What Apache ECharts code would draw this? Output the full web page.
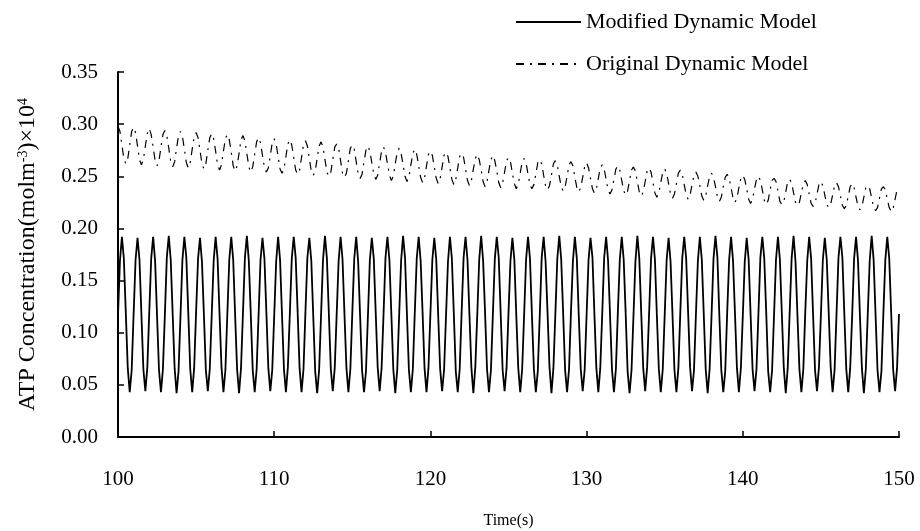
<!DOCTYPE html>
<html>
<head>
<meta charset="utf-8">
<script src="https://cdn.jsdelivr.net/npm/echarts@6/dist/echarts.min.js"></script>
<style>
  html, body { margin: 0; padding: 0; background: #fff; }
  #chart { width: 920px; height: 531px; }
</style>
</head>
<body>
<div id="chart"></div>
<script>
// Sampling grid of the simulation output (seconds)
const tStart = 100;
const tStep = 0.125;

// ATP concentration, modified dynamic model (one row per second, 8 samples each)
const modifiedModel = [
  0.117,0.169,0.192,0.171,0.119,0.066,0.043,0.064,
  0.118,0.170,0.191,0.170,0.117,0.065,0.044,0.066,
  0.119,0.171,0.192,0.169,0.116,0.064,0.043,0.065,
  0.117,0.172,0.193,0.170,0.118,0.066,0.042,0.063,
  0.116,0.170,0.192,0.172,0.119,0.065,0.043,0.066,
  0.120,0.171,0.191,0.168,0.117,0.064,0.044,0.065,
  0.117,0.169,0.192,0.171,0.118,0.067,0.043,0.064,
  0.118,0.170,0.192,0.170,0.116,0.065,0.042,0.066,
  0.119,0.172,0.193,0.169,0.118,0.064,0.043,0.065,
  0.117,0.170,0.191,0.171,0.119,0.066,0.044,0.064,
  0.116,0.168,0.192,0.170,0.117,0.065,0.043,0.067,
  0.118,0.171,0.192,0.172,0.120,0.066,0.043,0.065,
  0.120,0.172,0.191,0.169,0.116,0.063,0.042,0.064,
  0.117,0.170,0.193,0.171,0.118,0.065,0.044,0.066,
  0.118,0.169,0.192,0.170,0.117,0.066,0.043,0.065,
  0.119,0.171,0.192,0.168,0.116,0.064,0.043,0.063,
  0.116,0.170,0.191,0.171,0.119,0.067,0.044,0.066,
  0.118,0.172,0.192,0.170,0.118,0.065,0.042,0.064,
  0.117,0.169,0.193,0.172,0.117,0.064,0.043,0.065,
  0.119,0.171,0.192,0.169,0.119,0.066,0.043,0.066,
  0.118,0.170,0.191,0.170,0.116,0.065,0.044,0.064,
  0.116,0.168,0.192,0.171,0.118,0.063,0.043,0.065,
  0.120,0.172,0.192,0.170,0.117,0.066,0.042,0.067,
  0.117,0.170,0.193,0.169,0.119,0.065,0.043,0.064,
  0.118,0.171,0.192,0.172,0.118,0.064,0.044,0.066,
  0.119,0.169,0.191,0.170,0.116,0.066,0.043,0.065,
  0.117,0.170,0.192,0.171,0.117,0.065,0.043,0.063,
  0.116,0.172,0.192,0.168,0.119,0.067,0.042,0.066,
  0.118,0.171,0.193,0.170,0.118,0.064,0.043,0.065,
  0.120,0.169,0.192,0.171,0.116,0.065,0.044,0.064,
  0.117,0.170,0.191,0.172,0.118,0.066,0.043,0.066,
  0.118,0.172,0.192,0.169,0.117,0.065,0.043,0.065,
  0.119,0.170,0.192,0.170,0.119,0.063,0.042,0.064,
  0.116,0.168,0.193,0.171,0.118,0.066,0.044,0.067,
  0.118,0.171,0.192,0.170,0.116,0.065,0.043,0.065,
  0.117,0.170,0.191,0.168,0.117,0.064,0.043,0.066,
  0.120,0.172,0.192,0.171,0.119,0.067,0.044,0.064,
  0.118,0.169,0.192,0.170,0.118,0.065,0.042,0.065,
  0.117,0.171,0.193,0.172,0.116,0.064,0.043,0.063,
  0.119,0.170,0.192,0.169,0.118,0.066,0.043,0.066,
  0.116,0.168,0.191,0.170,0.117,0.065,0.044,0.065,
  0.118,0.172,0.192,0.171,0.119,0.063,0.043,0.064,
  0.117,0.170,0.192,0.170,0.118,0.066,0.042,0.066,
  0.119,0.171,0.193,0.168,0.116,0.065,0.043,0.065,
  0.120,0.169,0.192,0.171,0.117,0.064,0.044,0.067,
  0.117,0.170,0.191,0.170,0.119,0.067,0.043,0.064,
  0.118,0.172,0.192,0.172,0.118,0.065,0.043,0.066,
  0.116,0.171,0.192,0.169,0.116,0.066,0.042,0.065,
  0.118,0.169,0.193,0.170,0.117,0.064,0.043,0.063,
  0.119,0.170,0.192,0.171,0.119,0.065,0.044,0.066,
  0.118
];

// ATP concentration, original dynamic model (same sampling grid)
const originalModel = [
  0.298,0.293,0.280,0.267,0.262,0.267,0.280,0.293,
  0.297,0.292,0.279,0.266,0.261,0.266,0.279,0.291,
  0.296,0.290,0.278,0.265,0.260,0.265,0.278,0.290,
  0.294,0.289,0.277,0.264,0.259,0.264,0.277,0.289,
  0.293,0.288,0.276,0.263,0.258,0.263,0.276,0.288,
  0.292,0.287,0.275,0.262,0.257,0.262,0.275,0.287,
  0.291,0.286,0.274,0.261,0.256,0.261,0.274,0.286,
  0.290,0.285,0.273,0.260,0.255,0.260,0.272,0.285,
  0.289,0.284,0.272,0.259,0.254,0.259,0.271,0.283,
  0.287,0.282,0.270,0.258,0.254,0.258,0.270,0.282,
  0.286,0.281,0.269,0.257,0.253,0.257,0.269,0.281,
  0.285,0.280,0.268,0.256,0.252,0.256,0.268,0.280,
  0.284,0.279,0.267,0.255,0.251,0.255,0.267,0.279,
  0.283,0.278,0.266,0.254,0.250,0.254,0.266,0.278,
  0.281,0.277,0.265,0.253,0.249,0.253,0.265,0.277,
  0.280,0.276,0.264,0.252,0.248,0.252,0.264,0.275,
  0.279,0.274,0.263,0.252,0.247,0.251,0.263,0.274,
  0.278,0.273,0.262,0.251,0.246,0.250,0.262,0.273,
  0.277,0.272,0.261,0.250,0.245,0.249,0.261,0.272,
  0.276,0.271,0.260,0.249,0.244,0.248,0.260,0.271,
  0.274,0.270,0.259,0.248,0.243,0.248,0.259,0.270,
  0.273,0.269,0.258,0.247,0.242,0.247,0.258,0.269,
  0.272,0.268,0.257,0.246,0.241,0.246,0.257,0.267,
  0.271,0.266,0.256,0.245,0.240,0.245,0.256,0.266,
  0.270,0.265,0.255,0.244,0.239,0.244,0.254,0.265,
  0.268,0.264,0.253,0.243,0.238,0.243,0.253,0.264,
  0.267,0.263,0.252,0.242,0.238,0.242,0.252,0.263,
  0.266,0.262,0.251,0.241,0.237,0.241,0.251,0.262,
  0.265,0.261,0.250,0.240,0.236,0.240,0.250,0.261,
  0.264,0.260,0.249,0.239,0.235,0.239,0.249,0.259,
  0.263,0.258,0.248,0.238,0.234,0.238,0.248,0.258,
  0.261,0.257,0.247,0.237,0.233,0.237,0.247,0.257,
  0.260,0.256,0.246,0.236,0.232,0.236,0.246,0.256,
  0.259,0.255,0.245,0.235,0.231,0.235,0.245,0.255,
  0.258,0.254,0.244,0.234,0.230,0.234,0.244,0.254,
  0.257,0.253,0.243,0.233,0.229,0.233,0.243,0.253,
  0.256,0.252,0.242,0.232,0.228,0.232,0.242,0.251,
  0.254,0.250,0.241,0.231,0.227,0.231,0.241,0.250,
  0.253,0.249,0.240,0.230,0.226,0.230,0.240,0.249,
  0.252,0.248,0.239,0.229,0.225,0.229,0.239,0.248,
  0.251,0.247,0.238,0.228,0.224,0.228,0.238,0.247,
  0.250,0.246,0.237,0.227,0.223,0.227,0.237,0.246,
  0.248,0.245,0.236,0.226,0.223,0.226,0.235,0.245,
  0.247,0.244,0.234,0.225,0.222,0.225,0.234,0.243,
  0.246,0.242,0.233,0.224,0.221,0.224,0.233,0.242,
  0.245,0.241,0.232,0.223,0.220,0.223,0.232,0.241,
  0.244,0.240,0.231,0.222,0.219,0.222,0.231,0.240,
  0.243,0.239,0.230,0.221,0.218,0.221,0.230,0.239,
  0.241,0.238,0.229,0.220,0.217,0.220,0.229,0.238,
  0.240,0.237,0.228,0.220,0.216,0.219,0.228,0.237,
  0.239
];

const seriesNames = ['Modified Dynamic Model', 'Original Dynamic Model'];

const toPoints = values => values.map((v, i) => [tStart + i * tStep, v]);

const serif = 'Liberation Serif, Times New Roman, serif';

const chart = echarts.init(document.getElementById('chart'), null, { renderer: 'canvas' });

chart.setOption({
  animation: false,
  backgroundColor: '#ffffff',
  grid: { left: 118, right: 21, top: 72, bottom: 94, containLabel: false, outerBoundsMode: 'none' },
  legend: {
    left: 510,
    top: 6,
    orient: 'vertical',
    itemWidth: 65,
    itemHeight: 14,
    itemGap: 20,
    data: seriesNames,
    itemStyle: { opacity: 0 },
    textStyle: { fontFamily: serif, fontSize: 22, color: '#000' }
  },
  xAxis: {
    type: 'value',
    min: 100,
    max: 150,
    interval: 10,
    name: 'Time(s)',
    nameLocation: 'middle',
    nameGap: 76,
    nameTextStyle: { fontFamily: serif, fontSize: 16, color: '#000' },
    axisLine: { lineStyle: { color: '#000', width: 2 } },
    axisTick: { inside: true, length: 6, lineStyle: { color: '#000', width: 1.5 } },
    axisLabel: { margin: 32, fontFamily: serif, fontSize: 21, color: '#000' },
    splitLine: { show: false }
  },
  yAxis: {
    type: 'value',
    min: 0,
    max: 0.35,
    interval: 0.05,
    name: '{n|ATP Concentration(molm}{s|-3}{n|)×10}{s|4}',
    nameLocation: 'middle',
    nameGap: 78,
    nameTextStyle: {
      color: '#000',
      rich: {
        n: { fontFamily: serif, fontSize: 24, color: '#000', verticalAlign: 'bottom' },
        s: { fontFamily: serif, fontSize: 14, color: '#000', verticalAlign: 'top' }
      }
    },
    axisLine: { show: true, lineStyle: { color: '#000', width: 2 } },
    axisTick: { show: true, inside: true, length: 6, lineStyle: { color: '#000', width: 1.5 } },
    axisLabel: {
      margin: 20,
      fontFamily: serif,
      fontSize: 21,
      color: '#000',
      formatter: v => v.toFixed(2)
    },
    splitLine: { show: false }
  },
  series: [
    {
      name: seriesNames[0],
      type: 'line',
      symbol: 'none',
      data: toPoints(modifiedModel),
      lineStyle: { color: '#000', width: 1.8 },
      itemStyle: { color: '#000' }
    },
    {
      name: seriesNames[1],
      type: 'line',
      symbol: 'none',
      data: toPoints(originalModel),
      lineStyle: { color: '#000', width: 1.2, type: [8, 6, 2, 6] },
      itemStyle: { color: '#000' }
    }
  ]
});
</script>
</body>
</html>
